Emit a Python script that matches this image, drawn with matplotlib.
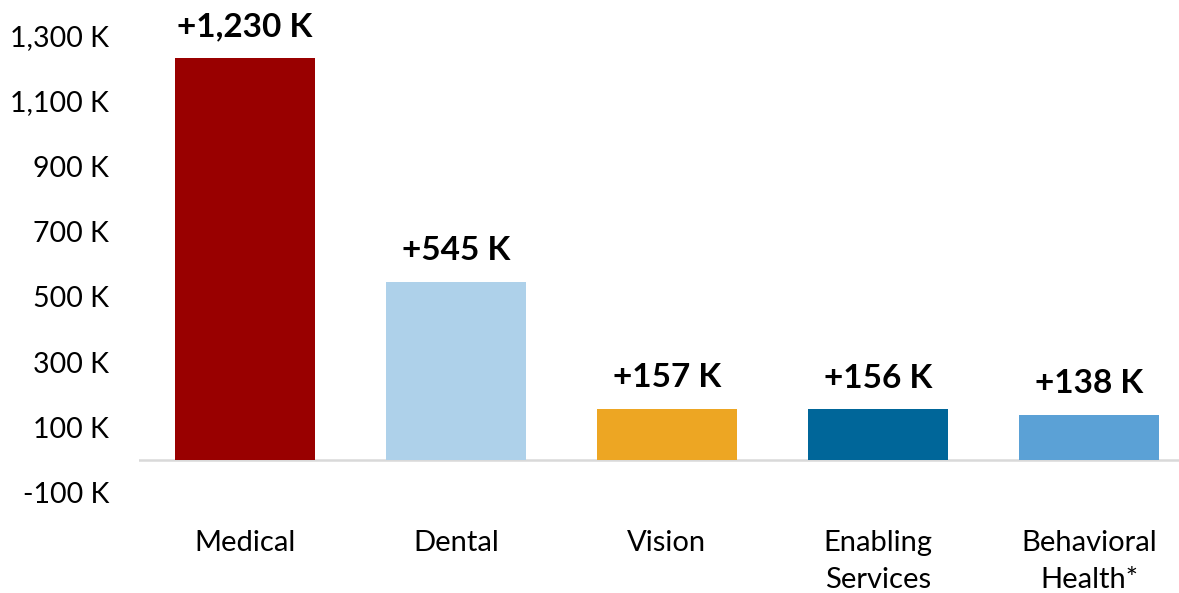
import matplotlib.pyplot as plt

plt.rcParams['font.family'] = ['Lato', 'DejaVu Sans']

# growth by service type, in thousands of patients
categories = ['Medical', 'Dental', 'Vision', 'Enabling\nServices', 'Behavioral\nHealth*']
growth_k = [1230, 545, 157, 156, 138]
bar_colors = ['#990000', '#AED1EA', '#EDA623', '#006699', '#5BA1D6']
y_ticks = [-100, 100, 300, 500, 700, 900, 1100, 1300]

fig = plt.figure(figsize=(11.79, 5.93), dpi=100)
ax = fig.add_axes([0.1183, 0.169, 0.8948, 0.771])

x = range(len(categories))
bars = ax.bar(x, growth_k, width=0.667, color=bar_colors, zorder=2)

for b, v in zip(bars, growth_k):
    ax.annotate('+{:,} K'.format(v), (b.get_x() + b.get_width() / 2, v),
                xytext=(0, 12), textcoords='offset points',
                ha='center', va='bottom', fontsize=24, fontweight='bold')

ax.axhline(0, color='#D9D9D9', lw=1.8, zorder=1)

ax.set_xlim(-0.5, 4.5)
ax.set_ylim(-100, 1300)
ax.set_yticks(y_ticks)
ax.set_yticklabels(['{:,} K'.format(t) for t in y_ticks], fontsize=20.5)
ax.set_xticks(list(x))
ax.set_xticklabels(categories, fontsize=21, linespacing=1.5)
ax.tick_params(axis='y', length=0, pad=22)
ax.tick_params(axis='x', length=0, pad=27)

for s in ax.spines.values():
    s.set_visible(False)

fig.savefig('out.png', dpi=100)
